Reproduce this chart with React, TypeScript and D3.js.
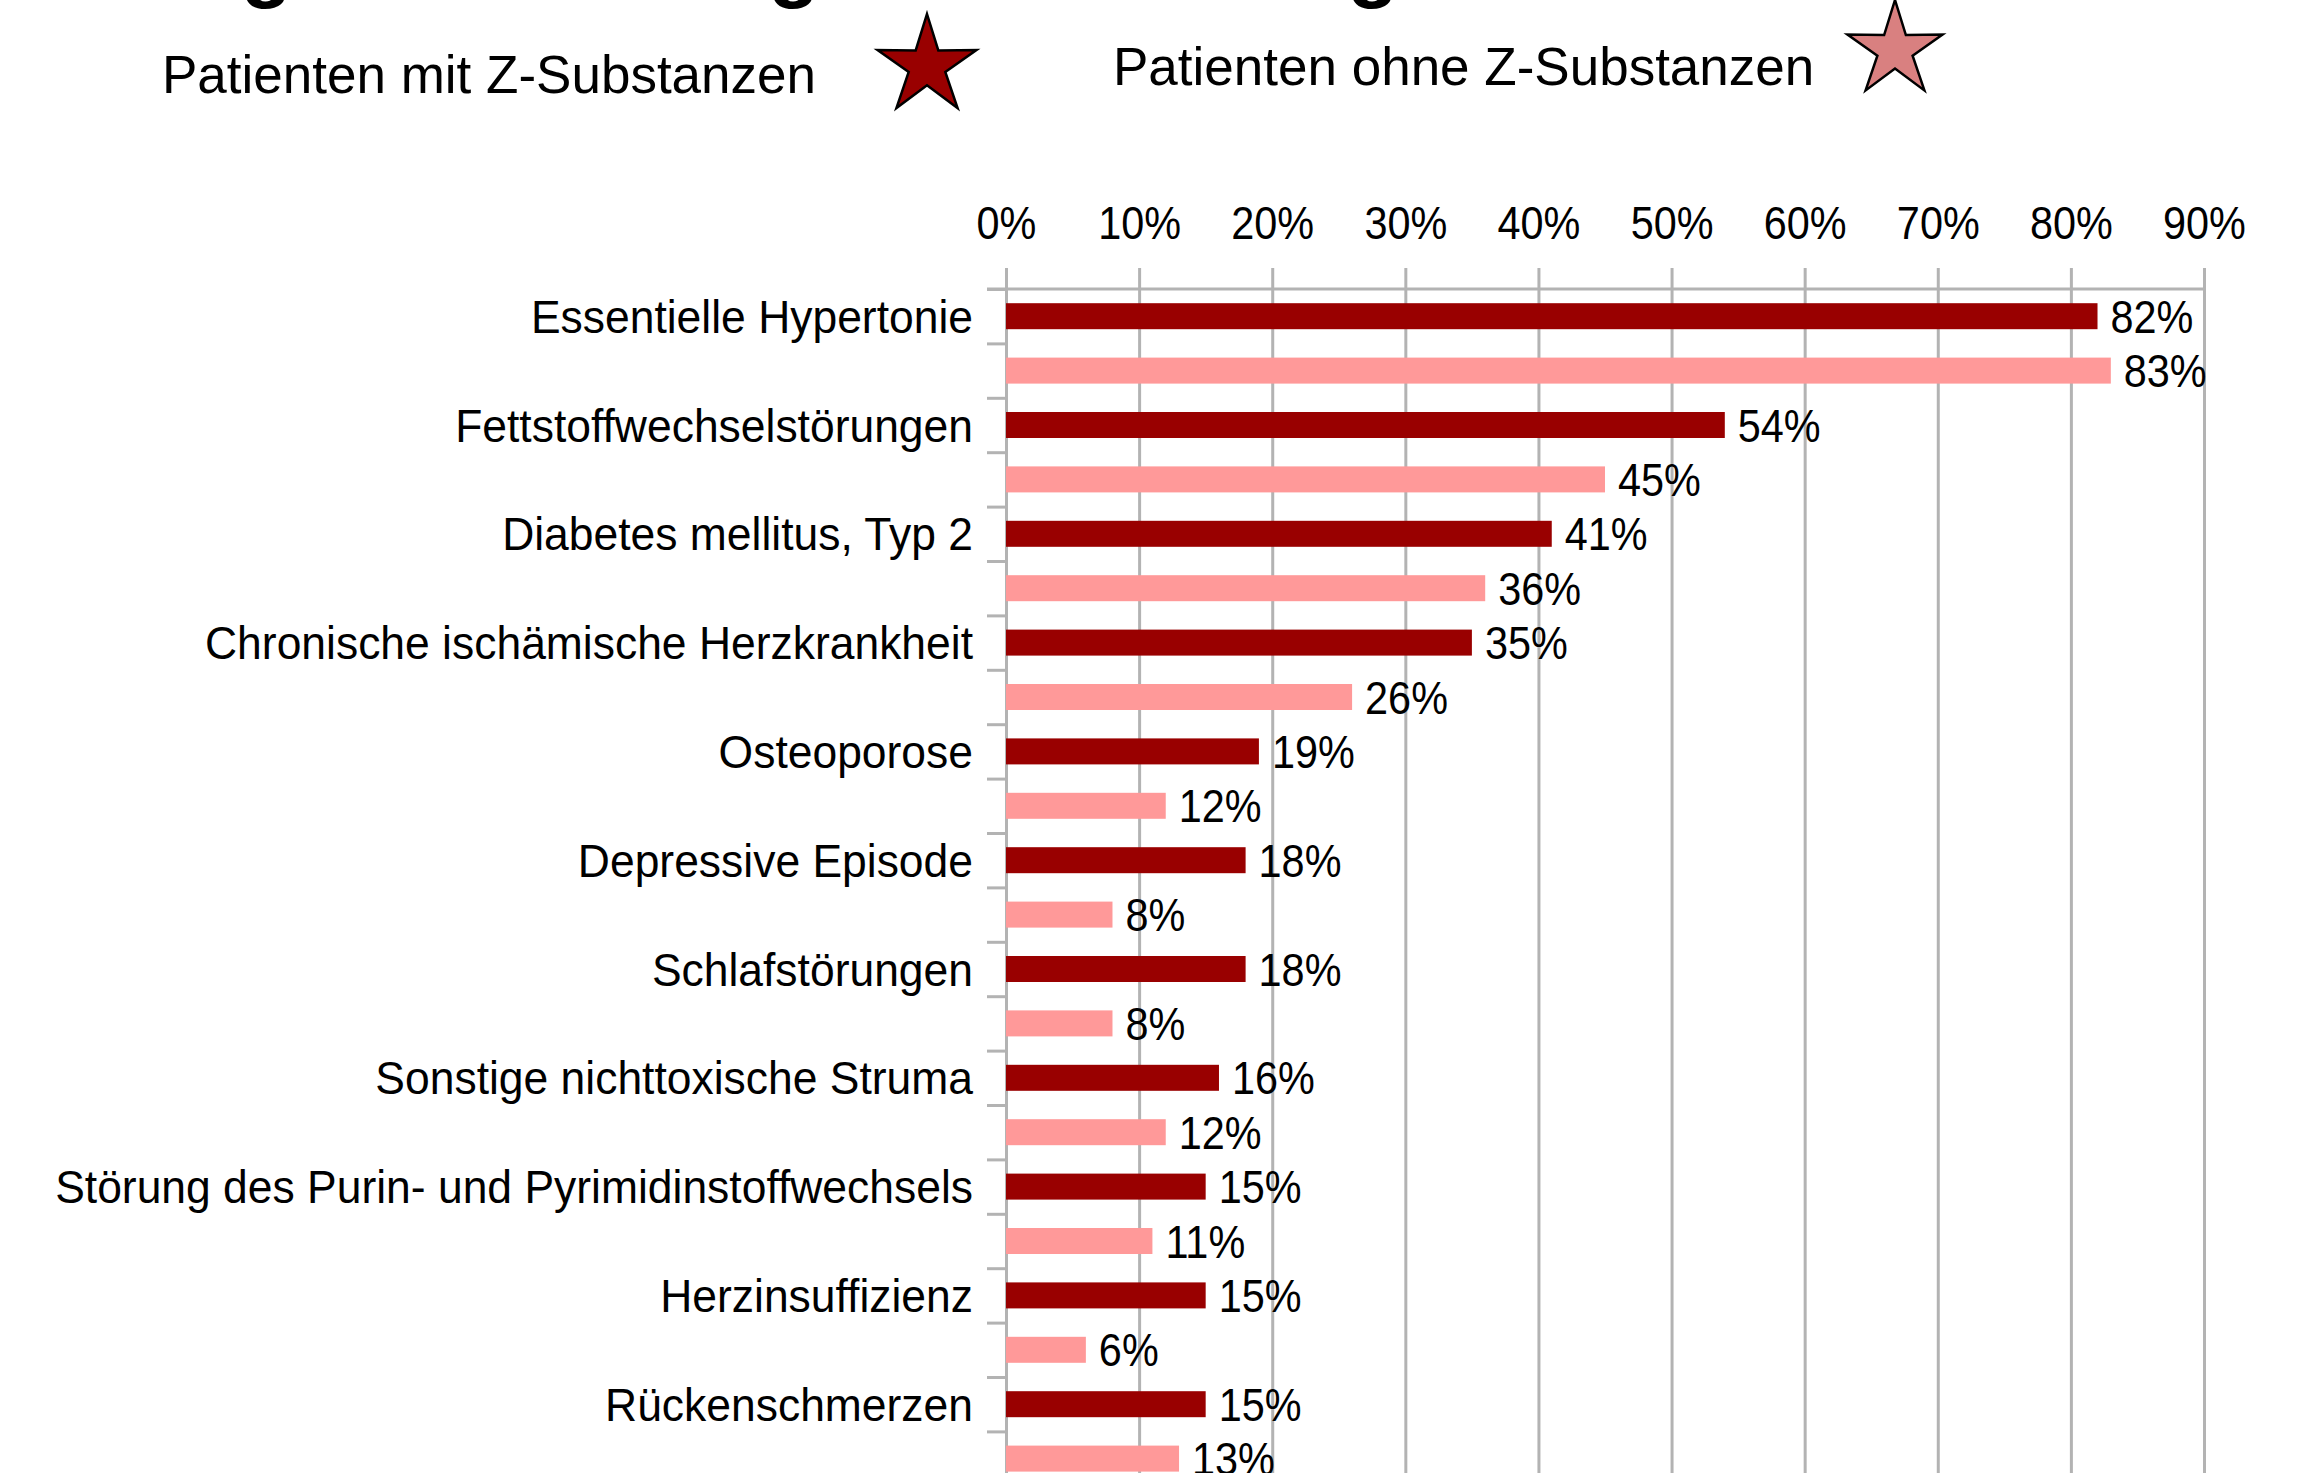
import React, { useEffect, useRef } from 'react'
import * as d3 from 'd3'

const title = 'Vergleich der Begleiterkrankungen'
const legendLabels = ['Patienten mit Z-Substanzen', 'Patienten ohne Z-Substanzen']
const categories = [
  'Essentielle Hypertonie',
  'Fettstoffwechselstörungen',
  'Diabetes mellitus, Typ 2',
  'Chronische ischämische Herzkrankheit',
  'Osteoporose',
  'Depressive Episode',
  'Schlafstörungen',
  'Sonstige nichttoxische Struma',
  'Störung des Purin- und Pyrimidinstoffwechsels',
  'Herzinsuffizienz',
  'Rückenschmerzen',
]
// percent of patients
const mitZ = [82, 54, 41, 35, 19, 18, 18, 16, 15, 15, 15]
const ohneZ = [83, 45, 36, 26, 12, 8, 8, 12, 11, 6, 13]
const xTicks = [0, 10, 20, 30, 40, 50, 60, 70, 80, 90]

const W = 2303
const H = 1473
const FONT = "'Liberation Sans', Arial, Helvetica, sans-serif"
const DARK = '#990000'
const PINK = '#ff9999'
const STAR_PINK = '#d98080'
const GRID = '#b3b3b3'

function starPath(R: number, r: number) {
  const pts: [number, number][] = d3.range(10).map(i => [i * Math.PI / 5, i % 2 ? r : R])
  return d3.lineRadial().curve(d3.curveLinearClosed)(pts) as string
}

export default function App() {
  const ref = useRef<SVGSVGElement>(null)

  useEffect(() => {
    const svg = d3.select(ref.current)
    svg.selectAll('*').remove()

    const top = 289
    const band = 108.8
    const barH = 26
    const x = d3.scaleLinear().domain([0, 90]).range([1006, 2204])
    const y = d3.scaleBand().domain(categories).range([top, top + categories.length * band])
    const sub = d3.scaleBand().domain(['mit', 'ohne']).range([0, y.bandwidth()])
    const ySub = d3.scaleLinear().domain([0, categories.length * 2]).range([top, top + categories.length * band])

    // title (only the descenders are inside the picture)
    svg.append('text')
      .attr('x', 110).attr('y', -8)
      .style('font-family', FONT).style('font-weight', 'bold').style('font-size', '84px')
      .text(title)

    // legend
    const legend = [
      { label: legendLabels[0], tx: 162, ty: 93, cx: 927, cy: 66, R: 52, fill: DARK },
      { label: legendLabels[1], tx: 1113, ty: 85, cx: 1895, cy: 50, R: 50, fill: STAR_PINK },
    ]
    legend.forEach(l => {
      svg.append('text')
        .attr('x', l.tx).attr('y', l.ty)
        .style('font-family', FONT).style('font-size', '53px')
        .text(l.label)
      svg.append('path')
        .attr('transform', `translate(${l.cx},${l.cy})`)
        .attr('d', starPath(l.R, l.R * 0.37))
        .attr('fill', l.fill).attr('stroke', '#000').attr('stroke-width', 2.5)
        .attr('stroke-linejoin', 'miter')
    })

    // x axis on top with grid lines
    const xAxis = svg.append('g')
      .attr('transform', 'translate(0,268)')
      .call(d3.axisTop(x).tickValues(xTicks).tickSizeInner(-(H - 268)).tickSizeOuter(0)
        .tickPadding(29).tickFormat(d => d + '%'))
    xAxis.select('.domain').remove()
    xAxis.selectAll('line').attr('stroke', GRID).attr('stroke-width', 3)
    xAxis.selectAll('text')
      .attr('transform', 'scale(0.9,1)')
      .attr('fill', '#000')
      .style('font-family', FONT).style('font-size', '46px')

    // y axis: tick at every bar boundary
    const yAxis = svg.append('g')
      .attr('transform', 'translate(1006,0)')
      .call(d3.axisLeft(ySub).tickValues(d3.range(0, categories.length * 2 + 1)).tickSize(19).tickFormat(() => ''))
    yAxis.select('.domain').remove()
    yAxis.selectAll('line').attr('stroke', GRID).attr('stroke-width', 3)

    svg.append('line')
      .attr('x1', 987).attr('x2', x(90)).attr('y1', top).attr('y2', top)
      .attr('stroke', GRID).attr('stroke-width', 3)

    // bars
    const rows = categories.map((c, i) => ({ c, mit: mitZ[i], ohne: ohneZ[i] }))
    const series = [
      { key: 'mit', color: DARK },
      { key: 'ohne', color: PINK },
    ]
    series.forEach(s => {
      const g = svg.append('g')
      const yc = (d: any) => (y(d.c) as number) + (sub(s.key) as number) + sub.bandwidth() / 2
      g.selectAll('rect').data(rows).enter().append('rect')
        .attr('x', x(0))
        .attr('y', d => yc(d) - barH / 2)
        .attr('width', d => x(d[s.key]) - x(0))
        .attr('height', barH)
        .attr('fill', s.color)
      g.selectAll('g.val').data(rows).enter().append('g')
        .attr('class', 'val')
        .attr('transform', d => `translate(${x(d[s.key]) + 13},${yc(d)}) scale(0.9,1)`)
        .append('text')
        .attr('dy', '0.36em')
        .style('font-family', FONT).style('font-size', '46px')
        .text(d => d[s.key] + '%')
    })

    // category labels, level with the first bar of each pair
    svg.append('g').selectAll('g').data(categories).enter().append('g')
      .attr('transform', d => `translate(973,${(y(d) as number) + (sub('mit') as number) + sub.bandwidth() / 2}) scale(0.966,1)`)
      .append('text')
      .attr('dy', '0.36em')
      .attr('text-anchor', 'end')
      .style('font-family', FONT).style('font-size', '46px')
      .text(d => d)
  }, [])

  return (
    <svg ref={ref} width={W} height={H}
      style={{ position: 'absolute', left: 0, top: 0, background: '#fff', overflow: 'hidden' }} />
  )
}
